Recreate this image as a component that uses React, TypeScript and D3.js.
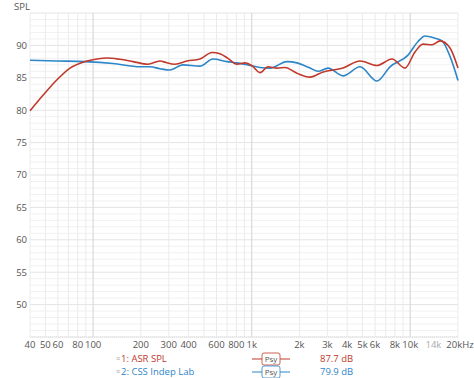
import React from "react";
import * as d3 from "d3";

const redFreq = [40, 48.3, 59.2, 71.5, 88.9, 105.8, 122.4, 147.8, 178.5, 221.9, 264.1, 275.9, 328.5, 391, 472, 562, 631, 709, 808, 908, 1000, 1128, 1268, 1444, 1623, 1931, 2332, 2818, 3767, 4822, 6170, 7672, 9267, 10715, 12035, 13718, 15402, 17812, 20000];
const redSPL = [79.9, 82.3, 84.7, 86.5, 87.5, 87.9, 88.05, 87.85, 87.5, 87.1, 87.6, 87.5, 87.1, 87.6, 87.9, 88.9, 88.7, 88.0, 87.1, 87.3, 86.9, 85.8, 86.7, 86.5, 86.6, 85.7, 85.1, 85.9, 86.5, 87.6, 86.9, 87.9, 86.5, 89.0, 90.2, 90.1, 90.7, 89.6, 86.5];

const blueFreq = [40, 59.2, 88.9, 133.5, 197.6, 228.4, 264.1, 305.3, 368.8, 472, 570.2, 698.8, 808, 934, 1128, 1305, 1670, 1931, 2332, 2620, 3029, 3767, 4822, 6170, 7452, 9679, 11193, 12389, 14325, 15860, 17812, 20000];
const blueSPL = [87.7, 87.6, 87.5, 87.2, 86.7, 86.7, 86.4, 86.2, 87.0, 86.8, 87.9, 87.5, 87.3, 87.0, 86.6, 86.5, 87.5, 87.3, 86.5, 86.0, 86.5, 85.3, 86.7, 84.5, 86.7, 88.5, 90.6, 91.45, 91.1, 90.7, 88.3, 84.6];

const xTickVals = [40, 50, 60, 80, 100, 200, 300, 400, 600, 800, 1000, 2000, 3000, 4000, 5000, 6000, 8000, 10000, 14000, 20000];
const xTickText = ["40", "50", "60", "80", "100", "200", "300", "400", "600", "800", "1k", "2k", "3k", "4k", "5k", "6k", "8k", "10k", "14k", "20kHz"];
const yTickVals = [50, 55, 60, 65, 70, 75, 80, 85, 90];

const seriesNames = ["1: ASR SPL", "2: CSS Indep Lab"];
const seriesLevels = ["87.7 dB", "79.9 dB"];
const RED = "#c0392b";
const BLUE = "#2e86c8";

export default function App() {
  const W = 474, H = 378;
  const x = d3.scaleLog().domain([40, 20000]).range([30, 458]);
  const y = d3.scaleLinear().domain([45, 95]).range([337, 13]);
  const font = "'Open Sans', 'Noto Sans', sans-serif";
  const fs = 9.5;

  const vMinor: number[] = [];
  for (let dec = 10; dec <= 10000; dec *= 10) {
    for (let m = 1; m <= 19; m++) {
      const f = dec * m;
      if (m > 9 && dec !== 1000 * 10) continue;
      if (f >= 40 && f <= 20000) vMinor.push(f);
    }
  }
  const hLines = d3.range(45, 96, 1);

  const line = d3.line<[number, number]>().x(d => x(d[0])).y(d => y(d[1])).curve(d3.curveMonotoneX);
  const redPts = redFreq.map((f, i) => [f, redSPL[i]] as [number, number]);
  const bluePts = blueFreq.map((f, i) => [f, blueSPL[i]] as [number, number]);

  return (
    <svg width={W} height={H} style={{ position: "absolute", left: 0, top: 0 }} fontFamily={font}>
      <rect x={0} y={0} width={W} height={H} fill="#fff" />
      {hLines.map(v => (
        <line key={"h" + v} x1={30} x2={458} y1={y(v)} y2={y(v)} stroke={v % 5 === 0 ? "#e4e4e4" : "#f1f1f1"} strokeWidth={1} />
      ))}
      {vMinor.map(f => {
        const major = f === 100 || f === 1000 || f === 10000;
        return (
          <line key={"v" + f} x1={x(f)} x2={x(f)} y1={13} y2={337} stroke={major ? "#dcdcdc" : "#ebebeb"} strokeWidth={major ? 1.3 : 1} />
        );
      })}
      <line x1={30} x2={458} y1={337} y2={337} stroke="#ddd" strokeDasharray="1,1" />
      <path d={line(bluePts) || ""} fill="none" stroke={BLUE} strokeWidth={1.6} />
      <path d={line(redPts) || ""} fill="none" stroke={RED} strokeWidth={1.6} />
      <text x={14} y={10} fontSize={fs} fill="#555">SPL</text>
      {yTickVals.map(v => (
        <text key={"yt" + v} x={27} y={y(v)} dy="0.35em" textAnchor="end" fontSize={fs} fill="#555">{v}</text>
      ))}
      {xTickVals.map((f, i) => (
        <text key={"xt" + f} x={x(f) + (f === 20000 ? 2 : 0)} y={348} textAnchor="middle" fontSize={fs} fill={f === 14000 ? "#aaa" : "#555"}>{xTickText[i]}</text>
      ))}
      {seriesNames.map((n, i) => {
        const cy = 359 + i * 13;
        const col = i === 0 ? RED : BLUE;
        return (
          <g key={"lg" + i}>
            <text x={116} y={cy} dy="0.35em" fontSize={7} fill="#aaa">≡</text>
            <text x={121} y={cy} dy="0.35em" fontSize={fs} fill={col}>{n}</text>
            <line x1={252} x2={290} y1={cy} y2={cy} stroke={col} strokeWidth={1.2} />
            <rect x={262} y={cy - 6} width={18} height={12} rx={2} fill="#fff" stroke={col} strokeWidth={0.8} />
            <text x={271} y={cy} dy="0.35em" textAnchor="middle" fontSize={8} fill="#555">Psy</text>
            <text x={320} y={cy} dy="0.35em" fontSize={fs} fill={col}>{seriesLevels[i]}</text>
          </g>
        );
      })}
    </svg>
  );
}
